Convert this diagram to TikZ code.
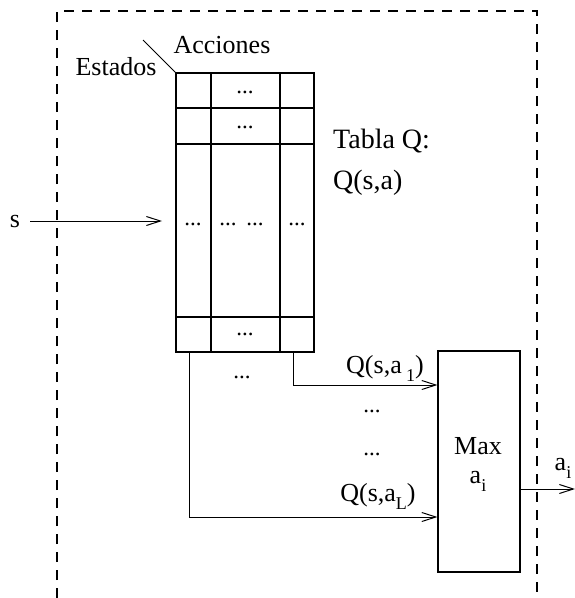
\documentclass[tikz,border=0pt]{standalone}
\usepackage{fontspec}
\setmainfont{Liberation Serif}
\usetikzlibrary{arrows.meta,calc}
\newcommand{\lowsub}[1]{\raisebox{-0.33em}{\fontsize{18}{18}\selectfont #1}}
\begin{document}
\begin{tikzpicture}[x=1pt,y=-1pt,
  txt/.style={font=\fontsize{26}{26}\selectfont, inner sep=0pt, anchor=base},
  big/.style={font=\fontsize{28}{28}\selectfont, inner sep=0pt, anchor=base west},
  dots/.style={font=\fontsize{23}{23}\selectfont, inner sep=0pt, anchor=base},
  arr/.style={line width=1pt, -{Straight Barb[length=14pt,width=9pt,line width=1pt]}},
  ln/.style={line width=1pt},
  frame/.style={line width=1.2pt, dash pattern=on 10pt off 8pt},
  box/.style={draw, line width=1.3pt, inner sep=0pt}]
\useasboundingbox (0,0) rectangle (575,598);
% dashed frame
\draw[frame] (57,598) -- (57,11) -- (537,11) -- (537,598);
% table
\node[box, minimum width=138pt, minimum height=279pt] (tab) at (245,212.5) {};
\draw[line width=1.2pt] (211,73) -- (211,352) (280,73) -- (280,352);
\draw[line width=1.2pt] (176,108) -- (314,108) (176,144) -- (314,144) (176,317) -- (314,317);
% header
\coordinate (diag) at (143,40);
\draw[ln] (diag) -- (tab.north west);
\node[txt] (acc) at (222,53) {Acciones};
\node[txt] (est) at (116,75) {Estados};
% table dots
\node[dots] (d1) at (245,93) {...};
\node[dots] (d2) at (245,128) {...};
\node[dots] (d3) at (193,225) {...};
\node[dots] (d4) at (228,225) {...};
\node[dots] (d5) at (255,225) {...};
\node[dots] (d6) at (297,225) {...};
\node[dots] (d7) at (245,335) {...};
% Tabla Q
\node[big] (tq) at (333,148) {Tabla Q:};
\node[big] (qsa) at (333,189) {Q(s,a)};
% input s
\node[txt] (s) at (15,227) {s};
\coordinate (sin) at (162,221);
\draw[arr] (30,221) -- (sin);
% Max box
\node[box, line width=1.1pt, minimum width=82pt, minimum height=221pt] (max) at (479,461.5) {};
\node[txt] (maxt) at (478,454) {Max};
\node[txt] (maxa) at (478,483) {a\lowsub{i}};
% connectors
\coordinate (c1) at (293,352);
\coordinate (c2) at (189,352);
\draw[arr] (c1) |- (max.west |- 0,385);
\draw[arr] (c2) |- (max.west |- 0,517);
\node[dots] (d8) at (242,378) {...};
\node[dots] (d9) at (372,412) {...};
\node[dots] (d10) at (372,455) {...};
\node[txt] (q1) at (385,373) {Q(s,a\,\lowsub{1})};
\node[txt] (qL) at (378,501) {Q(s,a\lowsub{L})};
% output
\coordinate (out) at (575,489);
\draw[arr] (max.east |- out) -- (out);
\node[txt] (ai) at (563,470) {a\lowsub{i}};
\end{tikzpicture}
\end{document}
